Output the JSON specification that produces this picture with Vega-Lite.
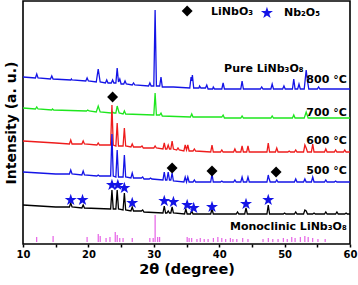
{
  "$schema": "https://vega.github.io/schema/vega-lite/v6.json",
  "autosize": "none",
  "width": 327,
  "height": 243,
  "padding": {"left": 23, "top": 1, "right": 8, "bottom": 41},
  "background": "white",
  "config": {
    "view": {"stroke": "black", "strokeWidth": 1.6},
    "font": "DejaVu Sans"
  },
  "datasets": {
    "xrd": [
      {"s":"800 °C","x":10,"y":167},{"s":"800 °C","x":11.9,"y":166},{"s":"800 °C","x":12.1,"y":170},{"s":"800 °C","x":12.3,"y":166},{"s":"800 °C","x":14.2,"y":165},{"s":"800 °C","x":14.4,"y":168},{"s":"800 °C","x":14.6,"y":165},{"s":"800 °C","x":17.3,"y":164},{"s":"800 °C","x":17.4,"y":165},{"s":"800 °C","x":17.5,"y":164},{"s":"800 °C","x":19.6,"y":163},{"s":"800 °C","x":19.8,"y":166},{"s":"800 °C","x":20.0,"y":163},{"s":"800 °C","x":21.2,"y":162},{"s":"800 °C","x":21.5,"y":175},{"s":"800 °C","x":21.8,"y":162},{"s":"800 °C","x":22.6,"y":161},{"s":"800 °C","x":22.8,"y":164},{"s":"800 °C","x":23.0,"y":161},{"s":"800 °C","x":23.5,"y":161},{"s":"800 °C","x":23.7,"y":164},{"s":"800 °C","x":23.9,"y":161},{"s":"800 °C","x":24.2,"y":161},{"s":"800 °C","x":24.4,"y":176},{"s":"800 °C","x":24.6,"y":162},{"s":"800 °C","x":24.8,"y":165},{"s":"800 °C","x":25.0,"y":160},{"s":"800 °C","x":25.4,"y":160},{"s":"800 °C","x":25.6,"y":163},{"s":"800 °C","x":25.8,"y":160},{"s":"800 °C","x":26.7,"y":159},{"s":"800 °C","x":26.9,"y":161},{"s":"800 °C","x":27.1,"y":159},{"s":"800 °C","x":29.2,"y":158},{"s":"800 °C","x":29.4,"y":161},{"s":"800 °C","x":29.6,"y":158},{"s":"800 °C","x":30.0,"y":158},{"s":"800 °C","x":30.2,"y":234},{"s":"800 °C","x":30.4,"y":158},{"s":"800 °C","x":30.9,"y":158},{"s":"800 °C","x":31.1,"y":167},{"s":"800 °C","x":31.3,"y":157},{"s":"800 °C","x":33,"y":157},{"s":"800 °C","x":35.5,"y":156},{"s":"800 °C","x":35.7,"y":167},{"s":"800 °C","x":35.8,"y":163},{"s":"800 °C","x":35.9,"y":169},{"s":"800 °C","x":36.1,"y":156},{"s":"800 °C","x":36.9,"y":156},{"s":"800 °C","x":37.0,"y":158},{"s":"800 °C","x":37.2,"y":156},{"s":"800 °C","x":37.9,"y":156},{"s":"800 °C","x":38.1,"y":159},{"s":"800 °C","x":38.3,"y":155},{"s":"800 °C","x":39.0,"y":155},{"s":"800 °C","x":39.1,"y":157},{"s":"800 °C","x":39.3,"y":155},{"s":"800 °C","x":40.4,"y":155},{"s":"800 °C","x":40.6,"y":161},{"s":"800 °C","x":40.8,"y":155},{"s":"800 °C","x":43.3,"y":155},{"s":"800 °C","x":43.5,"y":163},{"s":"800 °C","x":43.7,"y":155},{"s":"800 °C","x":46.3,"y":155},{"s":"800 °C","x":46.5,"y":157},{"s":"800 °C","x":46.7,"y":155},{"s":"800 °C","x":47.9,"y":155},{"s":"800 °C","x":48.1,"y":160},{"s":"800 °C","x":48.3,"y":155},{"s":"800 °C","x":49.7,"y":155},{"s":"800 °C","x":49.9,"y":158},{"s":"800 °C","x":50.1,"y":155},{"s":"800 °C","x":51.2,"y":155},{"s":"800 °C","x":51.4,"y":165},{"s":"800 °C","x":51.6,"y":155},{"s":"800 °C","x":52.0,"y":155},{"s":"800 °C","x":52.2,"y":160},{"s":"800 °C","x":52.4,"y":155},{"s":"800 °C","x":53.0,"y":155},{"s":"800 °C","x":53.3,"y":174},{"s":"800 °C","x":53.5,"y":163},{"s":"800 °C","x":53.7,"y":155},{"s":"800 °C","x":55.0,"y":155},{"s":"800 °C","x":55.2,"y":157},{"s":"800 °C","x":55.4,"y":155},{"s":"800 °C","x":60,"y":155},

      {"s":"700 °C","x":10,"y":136},{"s":"700 °C","x":11.9,"y":135},{"s":"700 °C","x":12.1,"y":137},{"s":"700 °C","x":12.3,"y":135},{"s":"700 °C","x":14.4,"y":134},{"s":"700 °C","x":14.5,"y":135},{"s":"700 °C","x":14.7,"y":134},{"s":"700 °C","x":19.7,"y":133},{"s":"700 °C","x":19.9,"y":134},{"s":"700 °C","x":20.1,"y":133},{"s":"700 °C","x":21.2,"y":132},{"s":"700 °C","x":21.5,"y":138},{"s":"700 °C","x":21.8,"y":132},{"s":"700 °C","x":23.5,"y":131},{"s":"700 °C","x":23.7,"y":132},{"s":"700 °C","x":23.9,"y":131},{"s":"700 °C","x":24.2,"y":131},{"s":"700 °C","x":24.4,"y":138},{"s":"700 °C","x":24.7,"y":131},{"s":"700 °C","x":25.3,"y":130},{"s":"700 °C","x":25.5,"y":133},{"s":"700 °C","x":25.7,"y":130},{"s":"700 °C","x":30.0,"y":129},{"s":"700 °C","x":30.2,"y":151},{"s":"700 °C","x":30.4,"y":129},{"s":"700 °C","x":30.9,"y":129},{"s":"700 °C","x":31.1,"y":131},{"s":"700 °C","x":31.3,"y":128},{"s":"700 °C","x":35.6,"y":127},{"s":"700 °C","x":35.8,"y":130},{"s":"700 °C","x":36.0,"y":127},{"s":"700 °C","x":40.4,"y":127},{"s":"700 °C","x":40.6,"y":129},{"s":"700 °C","x":40.8,"y":126},{"s":"700 °C","x":43.3,"y":126},{"s":"700 °C","x":43.5,"y":128},{"s":"700 °C","x":43.7,"y":126},{"s":"700 °C","x":47.9,"y":126},{"s":"700 °C","x":48.1,"y":128},{"s":"700 °C","x":48.3,"y":126},{"s":"700 °C","x":51.2,"y":126},{"s":"700 °C","x":51.4,"y":129},{"s":"700 °C","x":51.6,"y":126},{"s":"700 °C","x":53.0,"y":126},{"s":"700 °C","x":53.3,"y":132},{"s":"700 °C","x":53.6,"y":126},{"s":"700 °C","x":60,"y":126},

      {"s":"600 °C","x":10,"y":103},{"s":"600 °C","x":15,"y":101},{"s":"600 °C","x":17.1,"y":100},{"s":"600 °C","x":17.3,"y":104},{"s":"600 °C","x":17.5,"y":100},{"s":"600 °C","x":19.0,"y":100},{"s":"600 °C","x":19.2,"y":103},{"s":"600 °C","x":19.4,"y":100},{"s":"600 °C","x":21.3,"y":99},{"s":"600 °C","x":21.5,"y":101},{"s":"600 °C","x":21.7,"y":99},{"s":"600 °C","x":23.4,"y":99},{"s":"600 °C","x":23.6,"y":139},{"s":"600 °C","x":23.8,"y":99},{"s":"600 °C","x":24.2,"y":98},{"s":"600 °C","x":24.4,"y":121},{"s":"600 °C","x":24.6,"y":98},{"s":"600 °C","x":25.3,"y":98},{"s":"600 °C","x":25.5,"y":116},{"s":"600 °C","x":25.7,"y":98},{"s":"600 °C","x":26.5,"y":97},{"s":"600 °C","x":26.7,"y":100},{"s":"600 °C","x":26.9,"y":97},{"s":"600 °C","x":28.0,"y":97},{"s":"600 °C","x":28.2,"y":98},{"s":"600 °C","x":28.4,"y":96},{"s":"600 °C","x":30.0,"y":96},{"s":"600 °C","x":30.2,"y":98},{"s":"600 °C","x":30.4,"y":96},{"s":"600 °C","x":31.4,"y":95},{"s":"600 °C","x":31.6,"y":101},{"s":"600 °C","x":31.8,"y":95},{"s":"600 °C","x":32.0,"y":95},{"s":"600 °C","x":32.2,"y":99},{"s":"600 °C","x":32.4,"y":95},{"s":"600 °C","x":32.6,"y":95},{"s":"600 °C","x":32.8,"y":103},{"s":"600 °C","x":33.0,"y":95},{"s":"600 °C","x":33.5,"y":94},{"s":"600 °C","x":33.7,"y":96},{"s":"600 °C","x":33.9,"y":94},{"s":"600 °C","x":34.6,"y":93},{"s":"600 °C","x":34.8,"y":99},{"s":"600 °C","x":35.0,"y":94},{"s":"600 °C","x":35.2,"y":99},{"s":"600 °C","x":35.4,"y":93},{"s":"600 °C","x":36.0,"y":93},{"s":"600 °C","x":36.2,"y":95},{"s":"600 °C","x":36.4,"y":93},{"s":"600 °C","x":38.7,"y":92},{"s":"600 °C","x":38.9,"y":99},{"s":"600 °C","x":39.1,"y":92},{"s":"600 °C","x":40.2,"y":92},{"s":"600 °C","x":40.4,"y":94},{"s":"600 °C","x":40.6,"y":92},{"s":"600 °C","x":42.2,"y":92},{"s":"600 °C","x":42.4,"y":95},{"s":"600 °C","x":42.6,"y":92},{"s":"600 °C","x":43.3,"y":92},{"s":"600 °C","x":43.5,"y":98},{"s":"600 °C","x":43.7,"y":92},{"s":"600 °C","x":44.2,"y":92},{"s":"600 °C","x":44.4,"y":98},{"s":"600 °C","x":44.6,"y":92},{"s":"600 °C","x":47.3,"y":92},{"s":"600 °C","x":47.5,"y":101},{"s":"600 °C","x":47.7,"y":92},{"s":"600 °C","x":48.6,"y":92},{"s":"600 °C","x":48.8,"y":96},{"s":"600 °C","x":49.0,"y":92},{"s":"600 °C","x":50.5,"y":92},{"s":"600 °C","x":50.7,"y":93},{"s":"600 °C","x":50.9,"y":92},{"s":"600 °C","x":51.5,"y":92},{"s":"600 °C","x":51.7,"y":94},{"s":"600 °C","x":51.9,"y":92},{"s":"600 °C","x":52.9,"y":92},{"s":"600 °C","x":53.1,"y":99},{"s":"600 °C","x":53.3,"y":96},{"s":"600 °C","x":53.5,"y":92},{"s":"600 °C","x":54.1,"y":92},{"s":"600 °C","x":54.3,"y":100},{"s":"600 °C","x":54.5,"y":92},{"s":"600 °C","x":56.1,"y":92},{"s":"600 °C","x":56.3,"y":95},{"s":"600 °C","x":56.5,"y":92},{"s":"600 °C","x":57.6,"y":92},{"s":"600 °C","x":57.8,"y":94},{"s":"600 °C","x":58.0,"y":92},{"s":"600 °C","x":59.0,"y":92},{"s":"600 °C","x":59.2,"y":94},{"s":"600 °C","x":59.4,"y":92},{"s":"600 °C","x":60,"y":92},

      {"s":"500 °C","x":10,"y":72},{"s":"500 °C","x":15,"y":70},{"s":"500 °C","x":17.1,"y":70},{"s":"500 °C","x":17.3,"y":74},{"s":"500 °C","x":17.5,"y":70},{"s":"500 °C","x":19.0,"y":69},{"s":"500 °C","x":19.2,"y":73},{"s":"500 °C","x":19.4,"y":69},{"s":"500 °C","x":21.3,"y":68},{"s":"500 °C","x":21.5,"y":69},{"s":"500 °C","x":21.7,"y":68},{"s":"500 °C","x":23.4,"y":68},{"s":"500 °C","x":23.6,"y":110},{"s":"500 °C","x":23.8,"y":68},{"s":"500 °C","x":24.2,"y":67},{"s":"500 °C","x":24.4,"y":94},{"s":"500 °C","x":24.6,"y":67},{"s":"500 °C","x":25.3,"y":67},{"s":"500 °C","x":25.5,"y":89},{"s":"500 °C","x":25.7,"y":67},{"s":"500 °C","x":26.5,"y":66},{"s":"500 °C","x":26.7,"y":71},{"s":"500 °C","x":26.9,"y":66},{"s":"500 °C","x":28.1,"y":66},{"s":"500 °C","x":28.3,"y":67},{"s":"500 °C","x":28.5,"y":65},{"s":"500 °C","x":29.3,"y":65},{"s":"500 °C","x":29.5,"y":66},{"s":"500 °C","x":29.7,"y":65},{"s":"500 °C","x":31.4,"y":64},{"s":"500 °C","x":31.6,"y":72},{"s":"500 °C","x":31.8,"y":64},{"s":"500 °C","x":32.0,"y":64},{"s":"500 °C","x":32.2,"y":72},{"s":"500 °C","x":32.4,"y":64},{"s":"500 °C","x":32.6,"y":64},{"s":"500 °C","x":32.8,"y":71},{"s":"500 °C","x":33.0,"y":63},{"s":"500 °C","x":34.6,"y":62},{"s":"500 °C","x":34.8,"y":67},{"s":"500 °C","x":35.0,"y":62},{"s":"500 °C","x":35.2,"y":67},{"s":"500 °C","x":35.4,"y":62},{"s":"500 °C","x":36.0,"y":62},{"s":"500 °C","x":36.2,"y":64},{"s":"500 °C","x":36.4,"y":62},{"s":"500 °C","x":38.7,"y":62},{"s":"500 °C","x":38.9,"y":70},{"s":"500 °C","x":39.1,"y":62},{"s":"500 °C","x":40.2,"y":62},{"s":"500 °C","x":40.4,"y":63},{"s":"500 °C","x":40.6,"y":62},{"s":"500 °C","x":42.2,"y":62},{"s":"500 °C","x":42.4,"y":64},{"s":"500 °C","x":42.6,"y":62},{"s":"500 °C","x":43.3,"y":62},{"s":"500 °C","x":43.5,"y":67},{"s":"500 °C","x":43.7,"y":62},{"s":"500 °C","x":44.2,"y":62},{"s":"500 °C","x":44.4,"y":67},{"s":"500 °C","x":44.6,"y":62},{"s":"500 °C","x":47.3,"y":62},{"s":"500 °C","x":47.5,"y":69},{"s":"500 °C","x":47.6,"y":66},{"s":"500 °C","x":47.8,"y":62},{"s":"500 °C","x":48.6,"y":62},{"s":"500 °C","x":48.8,"y":64},{"s":"500 °C","x":49.0,"y":62},{"s":"500 °C","x":51.5,"y":62},{"s":"500 °C","x":51.7,"y":65},{"s":"500 °C","x":51.9,"y":62},{"s":"500 °C","x":52.9,"y":62},{"s":"500 °C","x":53.1,"y":65},{"s":"500 °C","x":53.3,"y":62},{"s":"500 °C","x":54.1,"y":62},{"s":"500 °C","x":54.3,"y":67},{"s":"500 °C","x":54.5,"y":62},{"s":"500 °C","x":56.1,"y":62},{"s":"500 °C","x":56.3,"y":64},{"s":"500 °C","x":56.5,"y":62},{"s":"500 °C","x":57.6,"y":62},{"s":"500 °C","x":57.8,"y":63},{"s":"500 °C","x":58.0,"y":62},{"s":"500 °C","x":60,"y":62},

      {"s":"Monoclinic","x":10,"y":39},{"s":"Monoclinic","x":15,"y":37},{"s":"Monoclinic","x":17.1,"y":37},{"s":"Monoclinic","x":17.3,"y":41},{"s":"Monoclinic","x":17.5,"y":37},{"s":"Monoclinic","x":19.0,"y":36},{"s":"Monoclinic","x":19.2,"y":39},{"s":"Monoclinic","x":19.4,"y":36},{"s":"Monoclinic","x":23.4,"y":35},{"s":"Monoclinic","x":23.6,"y":54},{"s":"Monoclinic","x":23.8,"y":35},{"s":"Monoclinic","x":24.2,"y":35},{"s":"Monoclinic","x":24.4,"y":54},{"s":"Monoclinic","x":24.6,"y":35},{"s":"Monoclinic","x":25.3,"y":34},{"s":"Monoclinic","x":25.5,"y":51},{"s":"Monoclinic","x":25.7,"y":34},{"s":"Monoclinic","x":26.5,"y":33},{"s":"Monoclinic","x":26.7,"y":37},{"s":"Monoclinic","x":26.9,"y":33},{"s":"Monoclinic","x":28.1,"y":33},{"s":"Monoclinic","x":28.3,"y":34},{"s":"Monoclinic","x":28.5,"y":32},{"s":"Monoclinic","x":31.4,"y":31},{"s":"Monoclinic","x":31.6,"y":38},{"s":"Monoclinic","x":31.8,"y":31},{"s":"Monoclinic","x":32.0,"y":31},{"s":"Monoclinic","x":32.2,"y":33},{"s":"Monoclinic","x":32.4,"y":31},{"s":"Monoclinic","x":32.6,"y":31},{"s":"Monoclinic","x":32.8,"y":37},{"s":"Monoclinic","x":33.0,"y":31},{"s":"Monoclinic","x":34.7,"y":30},{"s":"Monoclinic","x":34.9,"y":35},{"s":"Monoclinic","x":35.1,"y":30},{"s":"Monoclinic","x":35.6,"y":30},{"s":"Monoclinic","x":35.8,"y":33},{"s":"Monoclinic","x":36.0,"y":30},{"s":"Monoclinic","x":38.7,"y":30},{"s":"Monoclinic","x":38.9,"y":35},{"s":"Monoclinic","x":39.1,"y":30},{"s":"Monoclinic","x":42.6,"y":30},{"s":"Monoclinic","x":42.8,"y":32},{"s":"Monoclinic","x":43.0,"y":30},{"s":"Monoclinic","x":43.9,"y":30},{"s":"Monoclinic","x":44.1,"y":36},{"s":"Monoclinic","x":44.3,"y":30},{"s":"Monoclinic","x":47.3,"y":30},{"s":"Monoclinic","x":47.5,"y":39},{"s":"Monoclinic","x":47.7,"y":30},{"s":"Monoclinic","x":49.8,"y":30},{"s":"Monoclinic","x":50.0,"y":31},{"s":"Monoclinic","x":50.2,"y":30},{"s":"Monoclinic","x":51.5,"y":30},{"s":"Monoclinic","x":51.7,"y":32},{"s":"Monoclinic","x":51.9,"y":30},{"s":"Monoclinic","x":52.9,"y":30},{"s":"Monoclinic","x":53.1,"y":34},{"s":"Monoclinic","x":53.3,"y":33},{"s":"Monoclinic","x":53.5,"y":30},{"s":"Monoclinic","x":54.3,"y":30},{"s":"Monoclinic","x":54.5,"y":31},{"s":"Monoclinic","x":54.7,"y":30},{"s":"Monoclinic","x":56.1,"y":30},{"s":"Monoclinic","x":56.3,"y":32},{"s":"Monoclinic","x":56.5,"y":30},{"s":"Monoclinic","x":57.8,"y":30},{"s":"Monoclinic","x":58.0,"y":32},{"s":"Monoclinic","x":58.2,"y":30},{"s":"Monoclinic","x":59.2,"y":30},{"s":"Monoclinic","x":59.4,"y":31},{"s":"Monoclinic","x":59.6,"y":30},{"s":"Monoclinic","x":60,"y":30}
    ],
    "ref": [
      {"x":12.1,"y":7},{"x":14.6,"y":8},{"x":19.8,"y":7},{"x":21.5,"y":10},{"x":21.8,"y":8},{"x":22.7,"y":6},{"x":23.3,"y":7},{"x":24.1,"y":12},{"x":24.4,"y":9},{"x":24.8,"y":6},{"x":25.3,"y":6},{"x":26.7,"y":6},{"x":29.4,"y":6},{"x":29.9,"y":6},{"x":30.2,"y":29},{"x":30.6,"y":7},{"x":30.9,"y":7},{"x":35.1,"y":7},{"x":35.4,"y":6},{"x":35.8,"y":6},{"x":36.6,"y":5},{"x":37.1,"y":6},{"x":37.7,"y":5},{"x":38.3,"y":5},{"x":39.1,"y":6},{"x":39.8,"y":7},{"x":40.4,"y":6},{"x":41.0,"y":5},{"x":41.7,"y":6},{"x":42.1,"y":5},{"x":42.7,"y":5},{"x":43.6,"y":6},{"x":44.4,"y":5},{"x":46.7,"y":5},{"x":47.5,"y":6},{"x":48.2,"y":5},{"x":49.0,"y":5},{"x":49.8,"y":6},{"x":50.4,"y":5},{"x":51.1,"y":7},{"x":51.6,"y":6},{"x":52.4,"y":7},{"x":53.1,"y":8},{"x":53.6,"y":7},{"x":54.3,"y":6},{"x":55.1,"y":5},{"x":56.2,"y":5}
    ],
    "diamonds": [
      {"x":23.7,"y":147},{"x":32.8,"y":76},{"x":38.9,"y":73},{"x":48.7,"y":72},{"x":35.1,"y":233}
    ],
    "stars": [
      {"x":17.3,"y":44},{"x":19.1,"y":44},{"x":23.6,"y":59},{"x":24.5,"y":59},{"x":25.5,"y":56},{"x":26.7,"y":41},{"x":31.6,"y":43},{"x":33.0,"y":42},{"x":35.1,"y":39},{"x":36.1,"y":36},{"x":38.9,"y":37},{"x":44.1,"y":40},{"x":47.5,"y":44},{"x":47.3,"y":231}
    ],
    "labelsRight": [
      {"t":"800 °C","x":59.5,"y":164},{"t":"700 °C","x":59.5,"y":131},{"t":"600 °C","x":59.5,"y":103},{"t":"500 °C","x":59.5,"y":73},{"t":"Monoclinic LiNb₃O₈","x":59.5,"y":17},{"t":"Pure LiNb₃O₈","x":52.9,"y":175}
    ],
    "labelsLeft": [
      {"t":"LiNbO₃","x":38.75,"y":232},{"t":"Nb₂O₅","x":49.9,"y":231}
    ]
  },
  "encoding": {
    "x": {"field": "x", "type": "quantitative", "scale": {"domain": [10, 60], "nice": false, "zero": false},
      "axis": {"values": [10,15,20,25,30,35,40,45,50,55,60], "labelExpr": "datum.value % 10 === 0 ? datum.label : ''", "title": "2θ (degree)", "domain": false, "grid": false, "tickColor": "black", "tickSize": 3, "tickWidth": 1.5, "labelFont": "DejaVu Sans", "labelFontWeight": "bold", "labelFontSize": 10, "labelColor": "black", "labelPadding": 2, "labelFlush": false, "titleFont": "DejaVu Sans", "titleFontWeight": "bold", "titleFontSize": 14.5, "titleColor": "black", "titlePadding": 3}},
    "y": {"field": "y", "type": "quantitative", "scale": {"domain": [0, 243], "nice": false},
      "axis": {"title": "Intensity (a. u.)", "labels": false, "ticks": false, "domain": false, "grid": false, "titleFont": "DejaVu Sans", "titleFontWeight": "bold", "titleFontSize": 14, "titleColor": "black", "titlePadding": 5}}
  },
  "layer": [
    {
      "data": {"name": "ref"},
      "mark": {"type": "rule", "color": "#e040e0", "strokeWidth": 1},
      "encoding": {"y2": {"datum": 2}}
    },
    {
      "data": {"name": "xrd"},
      "mark": {"type": "line", "strokeWidth": 1.3},
      "encoding": {
        "color": {"field": "s", "type": "nominal", "legend": null,
          "scale": {"domain": ["800 °C", "700 °C", "600 °C", "500 °C", "Monoclinic"], "range": ["#1414e6", "#1ee61e", "#ee1c1c", "#1414e6", "#000000"]}}
      }
    },
    {
      "data": {"name": "diamonds"},
      "mark": {"type": "point", "shape": "diamond", "filled": true, "color": "black", "size": 120, "opacity": 1}
    },
    {
      "data": {"name": "stars"},
      "mark": {"type": "point", "shape": "M0,-1L0.225,-0.309L0.951,-0.309L0.363,0.118L0.588,0.809L0,0.382L-0.588,0.809L-0.363,0.118L-0.951,-0.309L-0.225,-0.309Z", "filled": true, "color": "#1414e6", "size": 160, "opacity": 1}
    },
    {
      "data": {"name": "labelsRight"},
      "mark": {"type": "text", "align": "right", "baseline": "middle", "font": "DejaVu Sans", "fontWeight": "bold", "fontSize": 11, "color": "black"},
      "encoding": {"text": {"field": "t"}}
    },
    {
      "data": {"name": "labelsLeft"},
      "mark": {"type": "text", "align": "left", "baseline": "middle", "font": "DejaVu Sans", "fontWeight": "bold", "fontSize": 11, "color": "black"},
      "encoding": {"text": {"field": "t"}}
    }
  ]
}
